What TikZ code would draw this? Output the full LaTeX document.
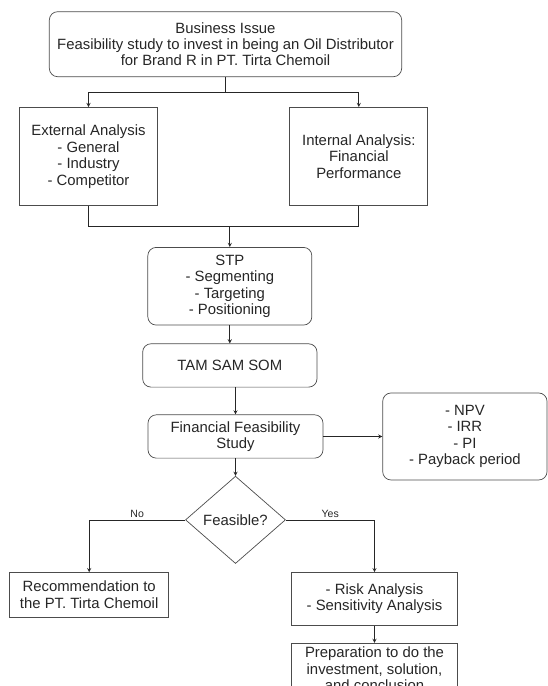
\documentclass[tikz,border=0pt]{standalone}
\usepackage{fontspec}
\setmainfont{Liberation Sans}
\usepackage{tikz}
\usetikzlibrary{shapes.geometric, arrows, positioning, calc}

\begin{document}
\begin{tikzpicture}[node distance=0.7cm, auto, >=stealth]
        \tikzstyle{process} = [rectangle, rounded corners=0.25cm, align=center, draw=black!70, line width=0.6pt, text=black!85, font=\fontsize{12.7}{14}\selectfont]
        \tikzstyle{analysis} = [rectangle, align=center, draw=black!70, line width=0.6pt, text=black!85, font=\fontsize{12.7}{14}\selectfont]
        \tikzstyle{decision} = [diamond, aspect=1.15, inner sep=0pt, align=center, draw=black!70, line width=0.6pt, text=black!85, font=\fontsize{12.7}{14}\selectfont]
        \tikzstyle{arrow} = [->, >=stealth, line width=0.6pt, black!85]
        \tikzstyle{link} = [line width=0.6pt, black!85]
        \tikzstyle{answer} = [font=\fontsize{9}{10}\selectfont, text=black!85, inner sep=1.5pt]

        \useasboundingbox (0,0) rectangle (16.41,-20.58);

        \node (issue) [process, minimum width=10.57cm, minimum height=1.95cm] at (6.765,-1.326) {Business Issue\\Feasibility study to invest in being an Oil Distributor\\for Brand R in PT. Tirta Chemoil};
        \node (ext) [analysis, minimum width=4.15cm, minimum height=2.95cm, below=0.9cm of issue, xshift=-4.11cm] {External Analysis\\- General\\- Industry\\- Competitor};
        \node (int) [analysis, minimum width=4.14cm, minimum height=2.95cm, below=0.9cm of issue, xshift=4.0cm] {Internal Analysis:\\Financial\\Performance};
        \node (stp) [process, minimum width=4.92cm, minimum height=2.33cm, below=5.1cm of issue, xshift=0.13cm] {STP\\- Segmenting\\- Targeting\\- Positioning};
        \node (tam) [process, minimum width=5.23cm, minimum height=1.3cm, below=0.54cm of stp] {TAM SAM SOM};
        \node (ffs) [process, minimum width=5.25cm, minimum height=1.3cm, below=0.81cm of tam, xshift=0.17cm] {Financial Feasibility\\Study};
        \node (npv) [process, minimum width=4.93cm, minimum height=2.61cm, right=1.77cm of ffs] {- NPV\\- IRR\\- PI\\- Payback period};
        \node (feas) [decision, minimum width=3.0cm, minimum height=2.62cm, below=0.52cm of ffs] {Feasible?};
        \node (rec) [analysis, minimum width=4.77cm, minimum height=1.33cm, below=0.25cm of feas, xshift=-4.39cm] {Recommendation to\\the PT. Tirta Chemoil};
        \node (risk) [analysis, minimum width=5.0cm, minimum height=1.58cm, below=0.25cm of feas, xshift=4.17cm] {- Risk Analysis\\- Sensitivity Analysis};
        \node (prep) [analysis, minimum width=5.0cm, minimum height=1.5cm, below=0.52cm of risk] {Preparation to do the\\investment, solution,\\and conclusion};

        \draw [arrow] (issue.south) -- ++(0,-0.45) -| (ext.north);
        \draw [arrow] (issue.south) -- ++(0,-0.45) -| (int.north);

        % both analyses join before STP
        \coordinate (merge) at ($(stp.north)+(0,0.62)$);
        \draw [link] (ext.south) |- (merge);
        \draw [link] (int.south) |- (merge);
        \draw [arrow] (merge) -- (stp.north);

        \draw [arrow] (stp) -- (tam);
        \draw [arrow] (ffs.north |- tam.south) -- (ffs);
        \draw [arrow] (ffs) -- (npv);
        \draw [arrow] (ffs) -- (feas);
        \draw [arrow] (feas.west) -| node [answer, above, pos=0.25] {No} (rec.north);
        \draw [arrow] (feas.east) -| node [answer, above, pos=0.25] {Yes} (risk.north);
        \draw [arrow] (risk) -- (prep);
    \end{tikzpicture}
\end{document}
